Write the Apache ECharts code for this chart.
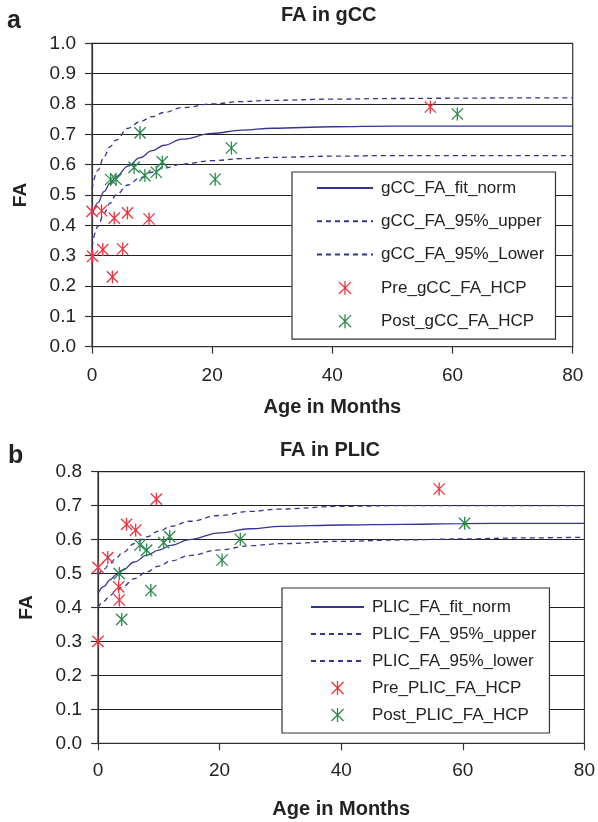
<!DOCTYPE html>
<html>
<head>
<meta charset="utf-8">
<script src="https://cdn.jsdelivr.net/npm/echarts@6/dist/echarts.min.js"></script>
<style>
html,body{margin:0;padding:0;background:#fff;}
#chart{width:598px;height:822px;}
</style>
</head>
<body>
<div id="chart"></div>
<script>
// ---- Data ----
var xTicks = [0, 20, 40, 60, 80];
var fitX = [0, 1, 2, 3, 4, 6, 8, 10, 12, 15, 20, 25, 30, 40, 50, 60, 70, 80];

// Panel a: FA in gCC
var gccFit   = [0.43, 0.475, 0.511, 0.538, 0.56, 0.595, 0.623, 0.646, 0.664, 0.684, 0.703, 0.714, 0.72, 0.725, 0.727, 0.727, 0.727, 0.727];
var gccUpper = [0.52, 0.582, 0.626, 0.659, 0.681, 0.72, 0.742, 0.758, 0.772, 0.788, 0.800, 0.808, 0.812, 0.816, 0.818, 0.819, 0.82, 0.82];
var gccLower = [0.33, 0.397, 0.44, 0.473, 0.5, 0.533, 0.557, 0.575, 0.589, 0.602, 0.613, 0.62, 0.624, 0.628, 0.63, 0.63, 0.63, 0.63];
var gccPreX  = [0, 1.6, 3.7, 5.9, 9.5, 0.1, 1.8, 5.1, 3.4, 56.3];
var gccPreY  = [0.446, 0.448, 0.424, 0.441, 0.421, 0.298, 0.32, 0.322, 0.23, 0.79];
var gccPostX = [3.1, 4.0, 8.0, 7.0, 8.8, 10.7, 11.7, 20.5, 23.2, 60.8];
var gccPostY = [0.551, 0.552, 0.705, 0.591, 0.564, 0.575, 0.609, 0.552, 0.655, 0.767];

// Panel b: FA in PLIC
var plicFit   = [0.441, 0.462, 0.482, 0.497, 0.51, 0.534, 0.554, 0.569, 0.583, 0.6, 0.62, 0.632, 0.639, 0.643, 0.645, 0.647, 0.648, 0.648];
var plicUpper = [0.495, 0.513, 0.53, 0.546, 0.561, 0.588, 0.608, 0.625, 0.639, 0.654, 0.671, 0.683, 0.69, 0.698, 0.7, 0.7, 0.7, 0.7];
var plicLower = [0.40, 0.419, 0.436, 0.449, 0.461, 0.485, 0.505, 0.522, 0.537, 0.553, 0.57, 0.582, 0.588, 0.595, 0.599, 0.602, 0.605, 0.607];
var plicPreX  = [0, 1.6, 4.7, 6.2, 9.6, 3.4, 3.5, 0, 56.1];
var plicPreY  = [0.518, 0.547, 0.645, 0.628, 0.719, 0.461, 0.422, 0.30, 0.749];
var plicPostX = [3.5, 3.9, 6.9, 8.0, 8.7, 10.8, 11.8, 20.4, 23.4, 60.3];
var plicPostY = [0.50, 0.365, 0.584, 0.569, 0.45, 0.591, 0.609, 0.54, 0.601, 0.648];

var gccNames  = ['gCC_FA_fit_norm', 'gCC_FA_95%_upper', 'gCC_FA_95%_Lower', 'Pre_gCC_FA_HCP', 'Post_gCC_FA_HCP'];
var plicNames = ['PLIC_FA_fit_norm', 'PLIC_FA_95%_upper', 'PLIC_FA_95%_lower', 'Pre_PLIC_FA_HCP', 'Post_PLIC_FA_HCP'];

// ---- Styling ----
var FONT = '"Liberation Sans", Arial, Helvetica, sans-serif';
var TXT = '#222';
var LINE = '#343494';
var RED = '#ec3340';
var GREEN = '#2a8a4c';
var STAR = 'path://M0,-10L0,10M-8.66,-8.66L8.66,8.66M-8.66,8.66L8.66,-8.66';

function pairs(xs, ys) { return xs.map(function (x, i) { return [x, ys[i]]; }); }

function lineSeries(name, ys, idx, dashed) {
  return {
    type: 'line', name: name, xAxisIndex: idx, yAxisIndex: idx,
    data: pairs(fitX, ys), symbol: 'circle', showSymbol: false, smooth: 0.4, smoothMonotone: 'x',
    lineStyle: { color: LINE, width: 1.3, type: dashed ? [5, 4] : 'solid', opacity: 1 },
    itemStyle: { color: LINE, opacity: 0 }, z: 3, silent: true
  };
}
function scatterSeries(name, xs, ys, idx, color) {
  return {
    type: 'scatter', name: name, xAxisIndex: idx, yAxisIndex: idx,
    data: pairs(xs, ys), symbol: STAR, symbolSize: 13, symbolKeepAspect: true,
    itemStyle: { color: color, borderColor: color, borderWidth: 1.3, opacity: 1 }, z: 4
  };
}
function xAxis(idx, nameGap, margin) {
  return {
    type: 'value', gridIndex: idx, min: 0, max: 80, interval: 20,
    name: 'Age in Months', nameLocation: 'middle', nameGap: nameGap,
    nameTextStyle: { fontFamily: FONT, fontSize: 20, fontWeight: 'bold', color: TXT },
    axisLine: { show: true, onZero: false, lineStyle: { color: '#333', width: 1.2 } },
    axisTick: { show: true, inside: false, length: 7, lineStyle: { color: '#333', width: 1.2 } },
    axisLabel: { margin: margin, fontFamily: FONT, fontSize: 19, color: TXT,
      formatter: function (v) { return xTicks.indexOf(v) >= 0 ? String(v) : ''; } },
    splitLine: { show: false }
  };
}
function yAxis(idx, max) {
  return {
    type: 'value', gridIndex: idx, min: 0, max: max, interval: 0.1,
    name: 'FA', nameLocation: 'middle', nameGap: 62, nameRotate: 90,
    nameTextStyle: { fontFamily: FONT, fontSize: 19, fontWeight: 'bold', color: TXT },
    axisLine: { show: true, lineStyle: { color: '#333', width: 1.2 } },
    axisTick: { show: true, inside: false, length: 7, lineStyle: { color: '#333', width: 1.2 } },
    axisLabel: { margin: 16, fontFamily: FONT, fontSize: 19, color: TXT,
      formatter: function (v) { return v.toFixed(1); } },
    splitLine: { show: true, lineStyle: { color: '#222', width: 1.2 } }
  };
}
function legend(names, left, top, gap, pad, iw) {
  return {
    data: names, orient: 'vertical', left: left, top: top,
    itemWidth: iw, itemHeight: 14, itemGap: gap, padding: pad,
    backgroundColor: '#fff', borderColor: '#333', borderWidth: 1.2, borderRadius: 0,
    selectedMode: false, symbolKeepAspect: true,
    itemStyle: { borderWidth: 1.3 },
    textStyle: { fontFamily: FONT, fontSize: 17, color: TXT, lineHeight: 20, padding: [0, 0, 0, 3] }
  };
}

var chart = echarts.init(document.getElementById('chart'), null, { renderer: 'canvas' });
chart.setOption({
  backgroundColor: '#fff',
  animation: false,
  title: [
    { text: 'a', left: 7, top: 9, padding: 0, textStyle: { fontFamily: FONT, fontSize: 25, fontWeight: 'bold', color: TXT } },
    { text: 'FA in gCC', left: 281, top: 5, padding: 0, textStyle: { fontFamily: FONT, fontSize: 20, fontWeight: 'bold', color: TXT } },
    { text: 'b', left: 8, top: 444, padding: 0, textStyle: { fontFamily: FONT, fontSize: 25, fontWeight: 'bold', color: TXT } },
    { text: 'FA in PLIC', left: 280, top: 440, padding: 0, textStyle: { fontFamily: FONT, fontSize: 20, fontWeight: 'bold', color: TXT } }
  ],
  grid: [
    { left: 92, top: 43.3, width: 480.7, height: 303.4, show: true, borderColor: '#333', borderWidth: 1.2, backgroundColor: 'transparent' },
    { left: 98, top: 471.7, width: 489.3, height: 271.6, show: true, borderColor: '#333', borderWidth: 1.2, backgroundColor: 'transparent' }
  ],
  xAxis: [xAxis(0, 51, 20), xAxis(1, 56, 18)],
  yAxis: [yAxis(0, 1.0), yAxis(1, 0.8)],
  legend: [
    legend(gccNames, 292, 172, 13.3, [6, 11, 8, 24], 56),
    legend(plicNames, 282, 588, 7, [9, 13, 8, 28], 53)
  ],
  series: [
    lineSeries(gccNames[0], gccFit, 0, false),
    lineSeries(gccNames[1], gccUpper, 0, true),
    lineSeries(gccNames[2], gccLower, 0, true),
    scatterSeries(gccNames[3], gccPreX, gccPreY, 0, RED),
    scatterSeries(gccNames[4], gccPostX, gccPostY, 0, GREEN),
    lineSeries(plicNames[0], plicFit, 1, false),
    lineSeries(plicNames[1], plicUpper, 1, true),
    lineSeries(plicNames[2], plicLower, 1, true),
    scatterSeries(plicNames[3], plicPreX, plicPreY, 1, RED),
    scatterSeries(plicNames[4], plicPostX, plicPostY, 1, GREEN)
  ]
});
</script>
</body>
</html>
